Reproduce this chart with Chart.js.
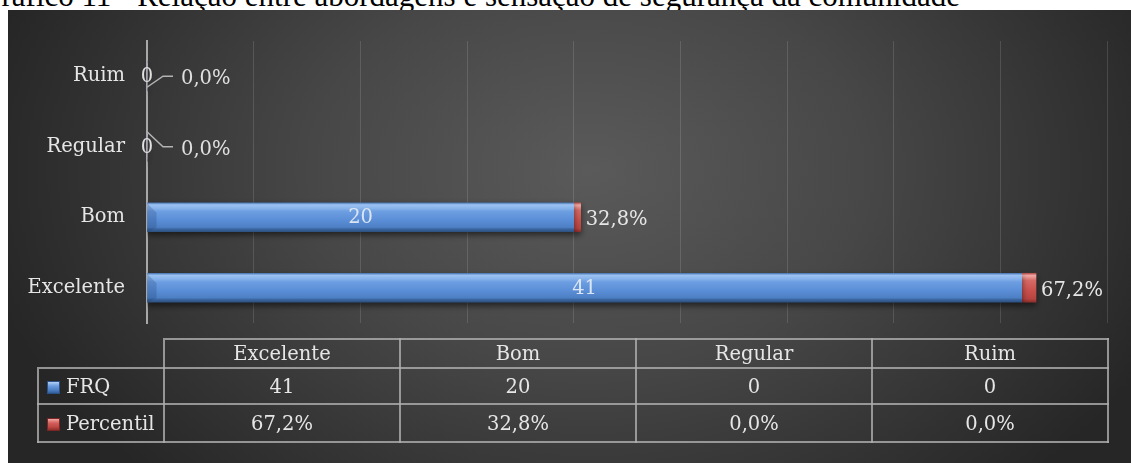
<!DOCTYPE html>
<html>
<head>
<meta charset="utf-8">
<title>Gráfico 11</title>
<script src="https://cdn.jsdelivr.net/npm/chart.js"></script>
<style>
    html, body {
        margin: 0;
        padding: 0;
        background: #ffffff;
    }
    #wrap {
        position: relative;
        width: 1131px;
        height: 463px;
        overflow: hidden;
    }
    #title {
        position: absolute;
        right: 171px;
        top: -20px;
        font: 31px/31px "Liberation Serif", "Times New Roman", serif;
        color: #000;
        white-space: nowrap;
        z-index: 0;
    }
    #chart {
        position: absolute;
        left: 0;
        top: 0;
        z-index: 1;
    }
    #dataTable {
        position: absolute;
        left: 37px;
        top: 338px;
        width: 1070px;
        border-collapse: collapse;
        table-layout: fixed;
        z-index: 2;
    }
    #dataTable td {
        border: 2px solid rgba(175, 175, 175, 0.8);
        padding: 0;
        text-align: center;
        color: #e6e6e6;
        font: 19.5px "DejaVu Serif", serif;
        white-space: nowrap;
    }
    #dataTable td.corner {
        border-top: none;
        border-left: none;
    }
    #dataTable td.name {
        text-align: left;
        padding-left: 8px;
    }
    .key {
        display: inline-block;
        width: 11px;
        height: 11px;
        margin-right: 6px;
        vertical-align: -1px;
    }
    .key.blue {
        background: linear-gradient(to bottom, #b5d0f3 0%, #6d9de0 35%, #4a7cc0 75%, #33619c 100%);
        border: 1px solid #2b5286;
    }
    .key.red {
        background: linear-gradient(to bottom, #f0a6a4 0%, #d4615d 35%, #bb4541 75%, #92302e 100%);
        border: 1px solid #7a2624;
    }
</style>
</head>
<body>
<div id="wrap">
    <div id="title">Gráfico 11 - Relação entre abordagens e sensação de segurança da comunidade</div>
    <canvas id="chart" width="1131" height="463"></canvas>
    <table id="dataTable"></table>
</div>

<script>
    // chart data, bottom-to-top order as in the original
    const categories = ['Excelente', 'Bom', 'Regular', 'Ruim'];
    const frq = [41, 20, 0, 0];
    const percentil = [67.2, 32.8, 0, 0];
    const seriesNames = ['FRQ', 'Percentil'];
    const xMin = 0;
    const xMax = 45;
    const xStep = 5;

    const labelFont = '19.5px "DejaVu Serif", serif';

    function fmtPct(v) {
        return v.toFixed(1).replace('.', ',') + '%';
    }

    // data table under the chart
    function buildTable() {
        const table = document.getElementById('dataTable');
        let html = '<colgroup><col style="width:126px">';
        categories.forEach(() => { html += '<col style="width:236px">'; });
        html += '</colgroup>';
        html += '<tr style="height:29px"><td class="corner"></td>';
        categories.forEach(c => { html += '<td>' + c + '</td>'; });
        html += '</tr>';
        html += '<tr style="height:36px"><td class="name"><span class="key blue"></span>' + seriesNames[0] + '</td>';
        frq.forEach(v => { html += '<td>' + v + '</td>'; });
        html += '</tr>';
        html += '<tr style="height:38px"><td class="name"><span class="key red"></span>' + seriesNames[1] + '</td>';
        percentil.forEach(v => { html += '<td>' + fmtPct(v) + '</td>'; });
        html += '</tr>';
        table.innerHTML = html;
    }
    buildTable();

    function barGradient(ctx, stops) {
        const chart = ctx.chart;
        if (!chart.chartArea || !chart.scales.y) return stops[Math.floor(stops.length / 2)][1];
        const y = chart.scales.y.getPixelForValue(ctx.dataIndex);
        const g = chart.ctx.createLinearGradient(0, y - 14.5, 0, y + 14.5);
        stops.forEach(s => g.addColorStop(s[0], s[1]));
        return g;
    }

    const blueStops = [
        [0, '#4a78b4'], [0.07, '#9cc2f2'], [0.2, '#86b2ea'], [0.3, '#6d9ee2'],
        [0.6, '#5a8ed6'], [0.85, '#4d7fc4'], [0.9, '#3c67a2'], [1, '#2d5282']
    ];
    const redStops = [
        [0, '#b5504c'], [0.08, '#f0a9a6'], [0.25, '#d66a66'], [0.6, '#c9504c'],
        [0.88, '#b74440'], [1, '#8a2e2c']
    ];

    const bgPlugin = {
        id: 'bg',
        beforeDraw(chart) {
            const ctx = chart.ctx;
            ctx.save();
            ctx.beginPath();
            ctx.rect(8, 10, 1123, 453);
            ctx.clip();
            ctx.translate(590, 170);
            ctx.scale(1, 0.7);
            const g = ctx.createRadialGradient(0, 0, 0, 0, 0, 620);
            g.addColorStop(0, '#5a5a5a');
            g.addColorStop(0.45, '#474747');
            g.addColorStop(1, '#262626');
            ctx.fillStyle = g;
            ctx.fillRect(-700, -400, 1400, 1000);
            ctx.restore();
        }
    };

    const labelPlugin = {
        id: 'barLabels',
        beforeDatasetsDraw(chart) {
            const ctx = chart.ctx;
            ctx.save();
            ctx.shadowColor = 'rgba(0,0,0,0.55)';
            ctx.shadowBlur = 6;
            ctx.shadowOffsetY = 3;
        },
        afterDatasetsDraw(chart) {
            const ctx = chart.ctx;
            ctx.restore();
            const metaF = chart.getDatasetMeta(0);
            const metaP = chart.getDatasetMeta(1);
            const x0 = chart.scales.x.getPixelForValue(0);

            ctx.save();
            // left bevel on blue bars
            metaF.data.forEach((bar, i) => {
                if (frq[i] <= 0) return;
                const top = bar.y - 14.5, bottom = bar.y + 14.5;
                ctx.fillStyle = 'rgba(25, 55, 100, 0.22)';
                ctx.beginPath();
                ctx.moveTo(bar.base, top + 1);
                ctx.lineTo(bar.base + 9, top + 10);
                ctx.lineTo(bar.base + 9, bottom - 4);
                ctx.lineTo(bar.base, bottom);
                ctx.closePath();
                ctx.fill();
            });

            ctx.font = labelFont;
            ctx.textBaseline = 'middle';
            categories.forEach((c, i) => {
                const bf = metaF.data[i];
                const bp = metaP.data[i];
                const y = bf.y;
                if (frq[i] > 0) {
                    ctx.fillStyle = '#dbe5f2';
                    ctx.textAlign = 'center';
                    ctx.fillText(String(frq[i]), (bf.base + bf.x) / 2, y + 1);
                    ctx.fillStyle = '#e6e6e6';
                    ctx.textAlign = 'left';
                    ctx.fillText(fmtPct(percentil[i]), bp.x + 5, y + 3);
                } else {
                    ctx.fillStyle = '#e0e0e0';
                    ctx.textAlign = 'center';
                    ctx.fillText(String(frq[i]), x0, y + 1);
                    const dy = (i % 2 === 0) ? -15 : 11;
                    ctx.strokeStyle = '#b4b4b4';
                    ctx.lineWidth = 1.5;
                    ctx.beginPath();
                    ctx.moveTo(x0, y + dy);
                    ctx.lineTo(x0 + 16, y);
                    ctx.lineTo(x0 + 26, y);
                    ctx.stroke();
                    ctx.textAlign = 'left';
                    ctx.fillText(fmtPct(percentil[i]), x0 + 34, y + 3);
                }
            });
            ctx.restore();
        }
    };

    new Chart(document.getElementById('chart'), {
        type: 'bar',
        data: {
            labels: categories,
            datasets: [
                {
                    label: seriesNames[0],
                    data: frq,
                    backgroundColor: ctx => barGradient(ctx, blueStops),
                    borderWidth: 0,
                    barThickness: 29
                },
                {
                    label: seriesNames[1],
                    data: percentil.map(v => v / 100),
                    backgroundColor: ctx => barGradient(ctx, redStops),
                    borderWidth: 0,
                    barThickness: 29
                }
            ]
        },
        options: {
            indexAxis: 'y',
            responsive: false,
            animation: false,
            layout: {
                padding: { left: 0, top: 41, right: 24, bottom: 140 }
            },
            plugins: {
                legend: { display: false },
                tooltip: { enabled: false },
                title: { display: false }
            },
            scales: {
                x: {
                    stacked: true,
                    min: xMin,
                    max: xMax,
                    ticks: { display: false, stepSize: xStep },
                    grid: {
                        color: 'rgba(255,255,255,0.13)',
                        lineWidth: 1,
                        drawTicks: false
                    },
                    border: { display: false },
                    afterFit(scale) { scale.height = 0; }
                },
                y: {
                    stacked: true,
                    reverse: true,
                    grid: { display: false, drawTicks: false },
                    border: { display: true, color: '#a8a8a8', width: 2 },
                    ticks: {
                        color: '#e6e6e6',
                        font: { family: '"DejaVu Serif", serif', size: 19.5 },
                        padding: 22
                    },
                    afterFit(scale) { scale.width = 147; }
                }
            }
        },
        plugins: [bgPlugin, labelPlugin]
    });
</script>
</body>
</html>
